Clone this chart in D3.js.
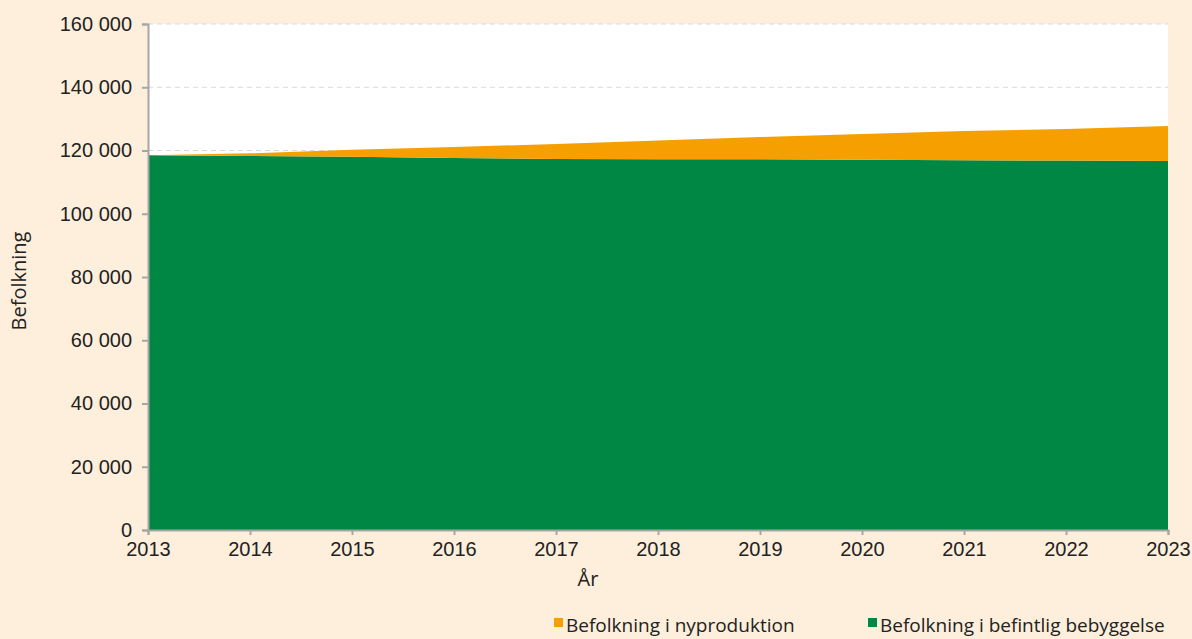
<!DOCTYPE html>
<html>
<head>
<meta charset="utf-8">
<script src="https://cdn.jsdelivr.net/npm/d3@7"></script>
<style>
  body { margin: 0; background: #fdefdb; }
  svg { display: block; font-family: "Open Sans", "Noto Sans", sans-serif; }
</style>
</head>
<body>
<div id="chart"></div>
<script>
// population by year, split into existing buildings and new production
const years = [2013, 2014, 2015, 2016, 2017, 2018, 2019, 2020, 2021, 2022, 2023];
const befintlig = [118500, 118300, 118000, 117600, 117300, 117200, 117200, 117100, 116900, 116800, 116700];
const nyproduktion = [0, 800, 2200, 3500, 4750, 5950, 7050, 8100, 9250, 10000, 11050];
const yTicks = [0, 20000, 40000, 60000, 80000, 100000, 120000, 140000, 160000];
const seriesNames = ["Befolkning i nyproduktion", "Befolkning i befintlig bebyggelse"];
const seriesColors = ["#f5a000", "#008743"];

const width = 1192, height = 639;
const margin = { top: 24, right: 24, bottom: 109, left: 148 };

const svg = d3.select("#chart").append("svg")
    .attr("width", width)
    .attr("height", height);

const x = d3.scaleLinear()
    .domain([years[0], years[years.length - 1]])
    .range([margin.left, width - margin.right]);

const y = d3.scaleLinear()
    .domain([0, 160000])
    .range([height - margin.bottom, margin.top]);

// white plot background
svg.append("rect")
    .attr("x", margin.left)
    .attr("y", margin.top)
    .attr("width", x.range()[1] - x.range()[0])
    .attr("height", y.range()[0] - y.range()[1])
    .attr("fill", "#ffffff");

// dashed gridlines
svg.append("g")
    .selectAll("line")
    .data(yTicks.filter(d => d > 0))
    .join("line")
    .attr("x1", margin.left)
    .attr("x2", x.range()[1])
    .attr("y1", d => y(d))
    .attr("y2", d => y(d))
    .attr("stroke", "#d9d9d9")
    .attr("stroke-dasharray", "5,4")
    .attr("stroke-width", 1);

// stacked areas
const rows = years.map((yr, i) => ({ year: yr, befintlig: befintlig[i], ny: nyproduktion[i] }));
const stack = d3.stack().keys(["befintlig", "ny"]);
const layers = stack(rows);
const area = d3.area()
    .x(d => x(d.data.year))
    .y0(d => y(d[0]))
    .y1(d => y(d[1]));

svg.append("g")
    .selectAll("path")
    .data(layers)
    .join("path")
    .attr("d", area)
    .attr("fill", (d, i) => i === 0 ? seriesColors[1] : seriesColors[0]);

// y axis
const yAxis = svg.append("g")
    .attr("transform", `translate(${margin.left},0)`)
    .call(d3.axisLeft(y)
        .tickValues(yTicks)
        .tickSize(6)
        .tickPadding(10)
        .tickFormat(d => d3.format(",")(d).replace(/,/g, " ")));

// x axis
const xAxis = svg.append("g")
    .attr("transform", `translate(0,${y(0)})`)
    .call(d3.axisBottom(x)
        .tickValues(years)
        .tickSize(5)
        .tickPadding(7)
        .tickFormat(d3.format("d")));

[xAxis, yAxis].forEach(a => {
    a.select(".domain").attr("stroke", "#a6a6a6").attr("stroke-width", 2);
    a.selectAll(".tick line").attr("stroke", "#a6a6a6").attr("stroke-width", 2);
    a.selectAll(".tick text").attr("fill", "#222").attr("font-size", "20px");
});

// axis titles
svg.append("text")
    .attr("x", 588)
    .attr("y", 586)
    .attr("text-anchor", "middle")
    .attr("font-size", "20px")
    .attr("fill", "#222")
    .text("År");

svg.append("text")
    .attr("transform", "translate(26,281) rotate(-90)")
    .attr("text-anchor", "middle")
    .attr("font-size", "20px")
    .attr("fill", "#222")
    .text("Befolkning");

// legend
const legendX = [554, 868];
const legend = svg.append("g")
    .selectAll("g")
    .data(seriesNames)
    .join("g")
    .attr("transform", (d, i) => `translate(${legendX[i]},618)`);

legend.append("rect")
    .attr("width", 9)
    .attr("height", 9)
    .attr("fill", (d, i) => seriesColors[i]);

legend.append("text")
    .attr("x", 12)
    .attr("y", 14)
    .attr("font-size", "19px")
    .attr("fill", "#222")
    .text(d => d);
</script>
</body>
</html>
